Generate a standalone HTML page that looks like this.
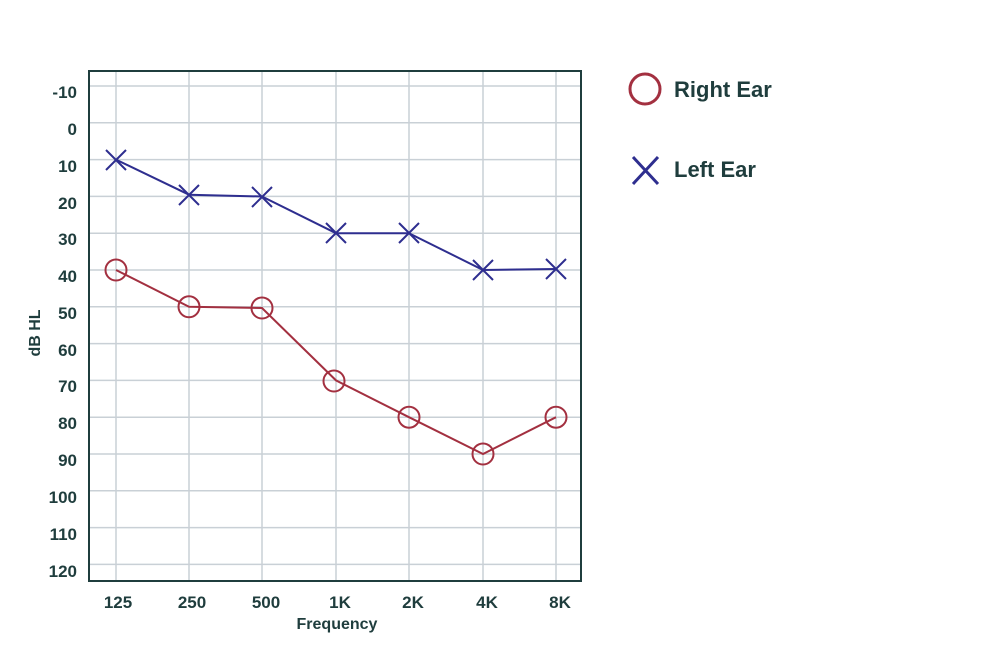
<!DOCTYPE html>
<html><head><style>body{margin:0;background:#fff}svg{display:block}</style></head><body>
<svg width="992" height="665" xmlns="http://www.w3.org/2000/svg" font-family="Liberation Sans, sans-serif" font-weight="bold">
<g stroke="#c9d0d6" stroke-width="1.5">
<line x1="89" x2="581" y1="86" y2="86"/><line x1="89" x2="581" y1="122.8" y2="122.8"/><line x1="89" x2="581" y1="159.6" y2="159.6"/><line x1="89" x2="581" y1="196.4" y2="196.4"/><line x1="89" x2="581" y1="233.2" y2="233.2"/><line x1="89" x2="581" y1="270" y2="270"/><line x1="89" x2="581" y1="306.8" y2="306.8"/><line x1="89" x2="581" y1="343.6" y2="343.6"/><line x1="89" x2="581" y1="380.4" y2="380.4"/><line x1="89" x2="581" y1="417.2" y2="417.2"/><line x1="89" x2="581" y1="454" y2="454"/><line x1="89" x2="581" y1="490.8" y2="490.8"/><line x1="89" x2="581" y1="527.6" y2="527.6"/><line x1="89" x2="581" y1="564.4" y2="564.4"/>
<line y1="71" y2="581" x1="116" x2="116"/><line y1="71" y2="581" x1="189" x2="189"/><line y1="71" y2="581" x1="262" x2="262"/><line y1="71" y2="581" x1="336" x2="336"/><line y1="71" y2="581" x1="409" x2="409"/><line y1="71" y2="581" x1="483" x2="483"/><line y1="71" y2="581" x1="556" x2="556"/>
</g>
<rect x="89" y="71" width="492" height="510" fill="none" stroke="#1f3d3d" stroke-width="2"/>
<g fill="#1f3d3d" font-size="17" text-anchor="end">
<text x="77" y="98">-10</text><text x="77" y="135">0</text><text x="77" y="172">10</text><text x="77" y="209">20</text><text x="77" y="245">30</text><text x="77" y="282">40</text><text x="77" y="319">50</text><text x="77" y="356">60</text><text x="77" y="392">70</text><text x="77" y="429">80</text><text x="77" y="466">90</text><text x="77" y="503">100</text><text x="77" y="540">110</text><text x="77" y="577">120</text>
</g>
<g fill="#1f3d3d" font-size="17" text-anchor="middle">
<text x="118" y="608">125</text><text x="192" y="608">250</text><text x="266" y="608">500</text><text x="340" y="608">1K</text><text x="413" y="608">2K</text><text x="487" y="608">4K</text><text x="560" y="608">8K</text>
<text x="337" y="629" font-size="16">Frequency</text>
<text transform="translate(40,333) rotate(-90)" font-size="16">dB HL</text>
</g>
<polyline fill="none" stroke="#2e2e8f" stroke-width="2" points="116,159.6 189,194.7 262,196.5 336,233.2 409,233.2 483,270 556,269"/>
<g stroke="#2e2e8f" stroke-width="2">
<path d="M106 150l20 20M126 150l-20 20"/><path d="M179 185l20 20M199 185l-20 20"/><path d="M252 187l20 20M272 187l-20 20"/><path d="M326 223l20 20M346 223l-20 20"/><path d="M399 223l20 20M419 223l-20 20"/><path d="M473 260l20 20M493 260l-20 20"/><path d="M546 259l20 20M566 259l-20 20"/>
</g>
<polyline fill="none" stroke="#a33040" stroke-width="2" points="116,270 189,306.8 262,308 336,380.4 409,417.2 483,454 556,417.2"/>
<g stroke="#a33040" stroke-width="2" fill="none">
<circle cx="116" cy="270" r="10.5"/><circle cx="189" cy="306.8" r="10.5"/><circle cx="262" cy="308" r="10.5"/><circle cx="334" cy="381" r="10.5"/><circle cx="409" cy="417.2" r="10.5"/><circle cx="483" cy="454" r="10.5"/><circle cx="556" cy="417.2" r="10.5"/>
</g>
<circle cx="645" cy="89" r="15" fill="none" stroke="#a33040" stroke-width="3"/>
<path d="M633 157l25 27M658 157l-25 27" stroke="#2e2e8f" stroke-width="3"/>
<g fill="#1f3d3d" font-size="22"><text x="674" y="97">Right Ear</text><text x="674" y="177">Left Ear</text></g>
</svg>
</body></html>
